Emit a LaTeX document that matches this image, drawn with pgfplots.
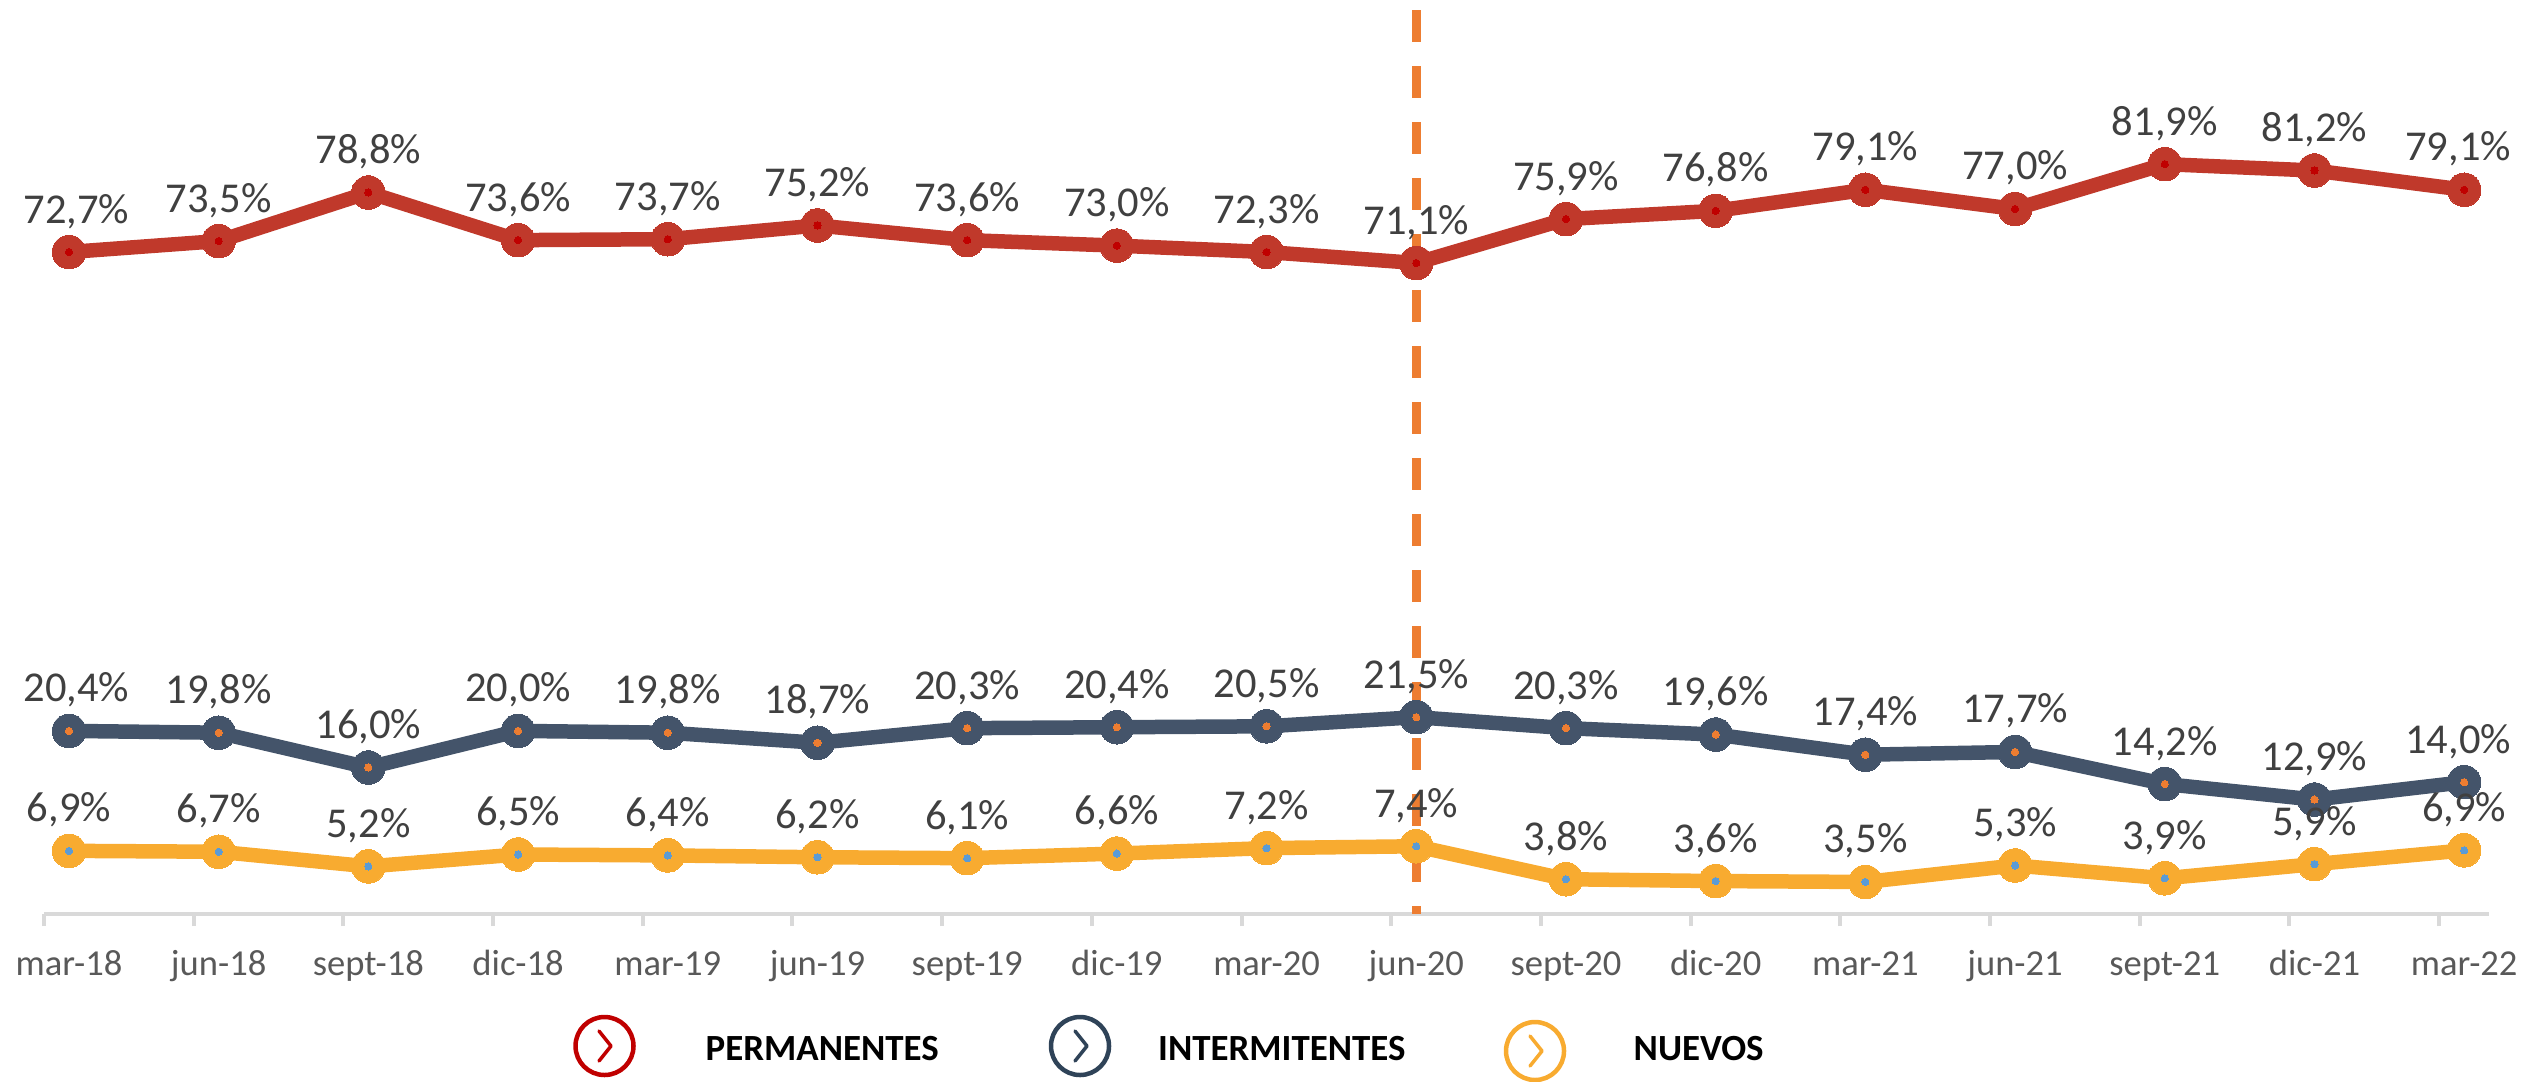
\documentclass[border=0pt]{standalone}
\usepackage{fontspec}
\setmainfont{Carlito}
\usepackage{pgfplots}
\usepackage{pgfplotstable}
\pgfplotsset{compat=1.18}

\definecolor{perm}{HTML}{C0392B}
\definecolor{permdot}{HTML}{C00000}
\definecolor{inter}{HTML}{44546A}
\definecolor{interlg}{HTML}{2F4358}
\definecolor{nuevo}{HTML}{F8AB30}
\definecolor{bluedot}{HTML}{5B9BD5}
\definecolor{orangeline}{HTML}{ED7D31}

% y* = height of the point as drawn, l* = printed label (a few points sit off their label)
\pgfplotstableread{
idx yperm lperm yinter linter ynuevo lnuevo
0  72.3 72.7 20.0 20.4 6.9  6.9
1  73.5 73.5 19.8 19.8 6.8  6.7
2  78.8 78.8 16.0 16.0 5.2  5.2
3  73.6 73.6 20.0 20.0 6.5  6.5
4  73.7 73.7 19.8 19.8 6.4  6.4
5  75.2 75.2 18.7 18.7 6.2  6.2
6  73.6 73.6 20.3 20.3 6.1  6.1
7  73.0 73.0 20.4 20.4 6.6  6.6
8  72.3 72.3 20.5 20.5 7.2  7.2
9  71.1 71.1 21.5 21.5 7.4  7.4
10 75.9 75.9 20.3 20.3 3.8  3.8
11 76.8 76.8 19.6 19.6 3.6  3.6
12 79.1 79.1 17.4 17.4 3.5  3.5
13 77.0 77.0 17.7 17.7 5.3  5.3
14 81.9 81.9 14.2 14.2 3.9  3.9
15 81.2 81.2 12.5 12.9 5.45 5.9
16 79.1 79.1 14.4 14.0 6.95 6.9
}\datatable

\pgfplotsset{
  serie/.style={color=#1, line width=1.45mm, line join=round, mark=*, mark size=1.68mm,
    mark options={fill=#1, draw=#1, line width=0pt},
    nodes near coords={\pgfmathprintnumber{\pgfplotspointmeta}\%},
    point meta=explicit,
    every node near coord/.style={anchor=base, yshift=2.9mm, text=black!75, font=\fontsize{12.1pt}{14pt}\selectfont,
      /pgf/number format/.cd, fixed, fixed zerofill, precision=1, use comma, assume math mode=true},
  },
  extremos/.style={
    coordinate style/.condition={x<0.5}{xshift=0.75mm},
    coordinate style/.condition={x>15.5}{xshift=-0.6mm},
  },
  punto/.style={only marks, mark=*, mark size=0.36mm, mark options={fill=#1, draw=#1, line width=0pt}},
}

\begin{document}
\begin{tikzpicture}[x=1cm,y=1cm]
  % 1 px of the reference = 0.1 mm, origin at the axis start
  \useasboundingbox (-4.4mm,-16.7mm) rectangle (249mm,91.4mm);
  \begin{axis}[
    scale only axis,
    width=244.5mm,
    height=91.4mm,
    xmin=-0.167, xmax=16.166,
    ymin=0, ymax=99.825,
    clip=false,
    axis y line=none,
    axis x line=bottom,
    axis line style={draw=black!15, line width=0.4mm, -},
    xtick={0,...,16},
    xticklabels={mar-18,jun-18,sept-18,dic-18,mar-19,jun-19,sept-19,dic-19,mar-20,jun-20,sept-20,dic-20,mar-21,jun-21,sept-21,dic-21,mar-22},
    major tick length=0pt,
    minor xtick={-0.167,0.833,1.833,2.833,3.833,4.833,5.833,6.833,7.833,8.833,9.833,10.833,11.833,12.833,13.833,14.833,15.833},
    minor tick length=1.2mm,
    tick align=outside,
    tick style={draw=black!15, line width=0.4mm},
    xticklabel style={anchor=base, yshift=-6.15mm, text=black!65, font=\fontsize{10.4pt}{12pt}\selectfont},
  ]
    \addplot[serie=perm, extremos] table[x=idx, y=yperm, meta=lperm] {\datatable};
    \addplot[punto=permdot] table[x=idx, y=yperm] {\datatable};
    \addplot[serie=inter, extremos] table[x=idx, y=yinter, meta=linter] {\datatable};
    \addplot[punto=orangeline] table[x=idx, y=yinter] {\datatable};
    \addplot[serie=nuevo] table[x=idx, y=ynuevo, meta=lnuevo] {\datatable};
    \addplot[punto=bluedot] table[x=idx, y=ynuevo] {\datatable};
    \addplot[orangeline, line width=0.85mm, dash pattern=on 3.2mm off 2.4mm] coordinates {(9,98.7) (9,0)};
  \end{axis}
  % legend, in reference pixels
  \begin{scope}[x=0.1mm, y=-0.1mm, shift={(-44,-914)}]
    \draw[permdot, line width=0.45mm] (604.5,1046) circle (29);
    \draw[permdot, line width=0.35mm, line cap=round, line join=round] (599,1031) -- (611,1046) -- (599,1061);
    \node[anchor=base west, inner sep=0pt, font=\fontsize{10.5pt}{12pt}\selectfont\bfseries] at (705,1060) {PERMANENTES};
    \draw[interlg, line width=0.45mm] (1080,1046) circle (29);
    \draw[interlg, line width=0.35mm, line cap=round, line join=round] (1075,1031) -- (1087,1046) -- (1075,1061);
    \node[anchor=base west, inner sep=0pt, font=\fontsize{10.5pt}{12pt}\selectfont\bfseries] at (1157.5,1060) {INTERMITENTES};
    \draw[nuevo, line width=0.45mm] (1535,1051) circle (29);
    \draw[nuevo, line width=0.35mm, line cap=round, line join=round] (1530,1036) -- (1542,1051) -- (1530,1066);
    \node[anchor=base west, inner sep=0pt, font=\fontsize{10.5pt}{12pt}\selectfont\bfseries] at (1633,1060) {NUEVOS};
  \end{scope}
\end{tikzpicture}
\end{document}
